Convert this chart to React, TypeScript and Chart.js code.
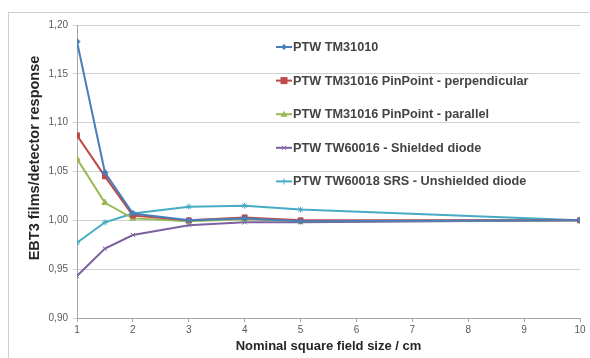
import React, { useEffect, useRef } from "react";
import { Chart, registerables } from "chart.js";

Chart.register(...registerables);

const fieldSizes = [1, 1.5, 2, 3, 4, 5, 10];
const seriesLabels = [
  "PTW TM31010",
  "PTW TM31016 PinPoint - perpendicular",
  "PTW TM31016 PinPoint - parallel",
  "PTW TW60016 - Shielded diode",
  "PTW TW60018 SRS - Unshielded diode",
];
const tm31010 = [1.183, 1.049, 1.007, 1.0, 1.002, 0.999, 1.0];
const pinPointPerp = [1.087, 1.045, 1.005, 1.0, 1.003, 1.0, 1.0];
const pinPointPar = [1.063, 1.018, 1.002, 0.999, 1.001, 0.999, 1.0];
const shieldedDiode = [0.943, 0.971, 0.985, 0.995, 0.998, 0.998, 1.0];
const unshieldedDiode = [0.977, 0.998, 1.007, 1.014, 1.015, 1.011, 1.0];
const yTicks = [0.9, 0.95, 1.0, 1.05, 1.1, 1.15, 1.2];
const xTicks = [1, 2, 3, 4, 5, 6, 7, 8, 9, 10];
const xTitle = "Nominal square field size / cm";
const yTitle = "EBT3 films/detector response";

const colors = ["#4a7ebb", "#be4b48", "#98b954", "#7d60a0", "#46aac5"];
const markers: any[] = ["rectRot", "rect", "triangle", "crossRot", "star"];
const markerSizes = [3, 3.5, 3.5, 3, 3];

function drawMarker(ctx: CanvasRenderingContext2D, style: string, r: number, x: number, y: number) {
  ctx.beginPath();
  if (style === "rect") {
    ctx.rect(x - r, y - r, 2 * r, 2 * r);
    ctx.fill();
  } else if (style === "rectRot") {
    ctx.moveTo(x, y - r);
    ctx.lineTo(x + r, y);
    ctx.lineTo(x, y + r);
    ctx.lineTo(x - r, y);
    ctx.closePath();
    ctx.fill();
  } else if (style === "triangle") {
    ctx.moveTo(x, y - r);
    ctx.lineTo(x + r, y + r * 0.7);
    ctx.lineTo(x - r, y + r * 0.7);
    ctx.closePath();
    ctx.fill();
  } else if (style === "crossRot") {
    ctx.moveTo(x - r * 0.7, y - r * 0.7);
    ctx.lineTo(x + r * 0.7, y + r * 0.7);
    ctx.moveTo(x + r * 0.7, y - r * 0.7);
    ctx.lineTo(x - r * 0.7, y + r * 0.7);
    ctx.stroke();
  } else {
    ctx.moveTo(x - r, y);
    ctx.lineTo(x + r, y);
    ctx.moveTo(x, y - r);
    ctx.lineTo(x, y + r);
    ctx.stroke();
  }
}

const legendPlugin = {
  id: "customLegend",
  afterDraw(chart: any) {
    const ctx = chart.ctx;
    ctx.save();
    chart.data.datasets.forEach((ds: any, i: number) => {
      const y = 47 + i * 33.6;
      ctx.strokeStyle = ds.borderColor;
      ctx.lineWidth = 2;
      ctx.beginPath();
      ctx.moveTo(276, y);
      ctx.lineTo(292, y);
      ctx.stroke();
      ctx.fillStyle = ds.borderColor;
      ctx.strokeStyle = ds.borderColor;
      ctx.lineWidth = 1;
      drawMarker(ctx, ds.pointStyle, ds.pointRadius, 284, y);
      ctx.fillStyle = "#444444";
      ctx.font = "bold 12.7px 'Liberation Sans', Arial, sans-serif";
      ctx.textAlign = "left";
      ctx.textBaseline = "middle";
      ctx.fillText(ds.label, 293, y + 0.5);
    });
    ctx.translate(35, 158);
    ctx.rotate(-Math.PI / 2);
    ctx.fillStyle = "#262626";
    ctx.font = "bold 14.5px 'Liberation Sans', Arial, sans-serif";
    ctx.textAlign = "center";
    ctx.textBaseline = "middle";
    ctx.fillText(yTitle, 0, 0);
    ctx.restore();
  },
};

export default function App() {
  const ref = useRef<HTMLCanvasElement | null>(null);
  useEffect(() => {
    if (!ref.current) return;
    const series = [tm31010, pinPointPerp, pinPointPar, shieldedDiode, unshieldedDiode];
    const chart = new Chart(ref.current, {
      type: "line",
      data: {
        datasets: series.map((vals, i) => ({
          label: seriesLabels[i],
          data: fieldSizes.map((x, j) => ({ x, y: vals[j] })),
          borderColor: colors[i],
          backgroundColor: colors[i],
          borderWidth: 2,
          pointStyle: markers[i],
          pointRadius: markerSizes[i],
          pointBorderWidth: 1,
          tension: 0,
        })),
      },
      options: {
        responsive: false,
        animation: false,
        layout: { padding: { left: 8, right: 10, top: 25, bottom: 0 } },
        plugins: { legend: { display: false }, tooltip: { enabled: false } },
        scales: {
          x: {
            type: "linear",
            min: 1,
            max: 10,
            afterBuildTicks: (s: any) => {
              s.ticks = xTicks.map((v) => ({ value: v }));
            },
            afterFit: (s: any) => {
              s.height = 40;
            },
            ticks: {
              color: "#595959",
              font: { size: 10, family: "'Liberation Sans', Arial, sans-serif" },
              padding: 2,
              maxRotation: 0,
            },
            grid: { drawOnChartArea: false, drawTicks: true, tickLength: 4, color: "#a6a6a6" },
            border: { color: "#a6a6a6", width: 1 },
            title: {
              display: true,
              text: xTitle,
              color: "#262626",
              font: { size: 13, weight: "bold", family: "'Liberation Sans', Arial, sans-serif" },
              padding: { top: 0, bottom: 4 },
            },
          },
          y: {
            type: "linear",
            min: 0.9,
            max: 1.2,
            afterBuildTicks: (s: any) => {
              s.ticks = yTicks.map((v) => ({ value: v }));
            },
            afterFit: (s: any) => {
              s.width = 69;
            },
            ticks: {
              color: "#595959",
              font: { size: 10, family: "'Liberation Sans', Arial, sans-serif" },
              padding: 5,
              callback: (v: any) => Number(v).toFixed(2).replace(".", ","),
            },
            grid: { color: "#d0d0d0", tickLength: 4, drawTicks: true },
            border: { color: "#a6a6a6", width: 1 },
          },
        },
      },
      plugins: [legendPlugin],
    });
    return () => chart.destroy();
  }, []);
  return (
    <div style={{ position: "fixed", left: 0, top: 0, width: 590, height: 358, background: "#fff" }}>
      <div
        style={{
          position: "absolute",
          left: 8,
          top: 12,
          width: 580,
          height: 360,
          borderLeft: "1px solid #cfcfcf",
          borderTop: "1px solid #cfcfcf",
        }}
      />
      <canvas ref={ref} width={590} height={358} style={{ position: "absolute", left: 0, top: 0 }} />
    </div>
  );
}
